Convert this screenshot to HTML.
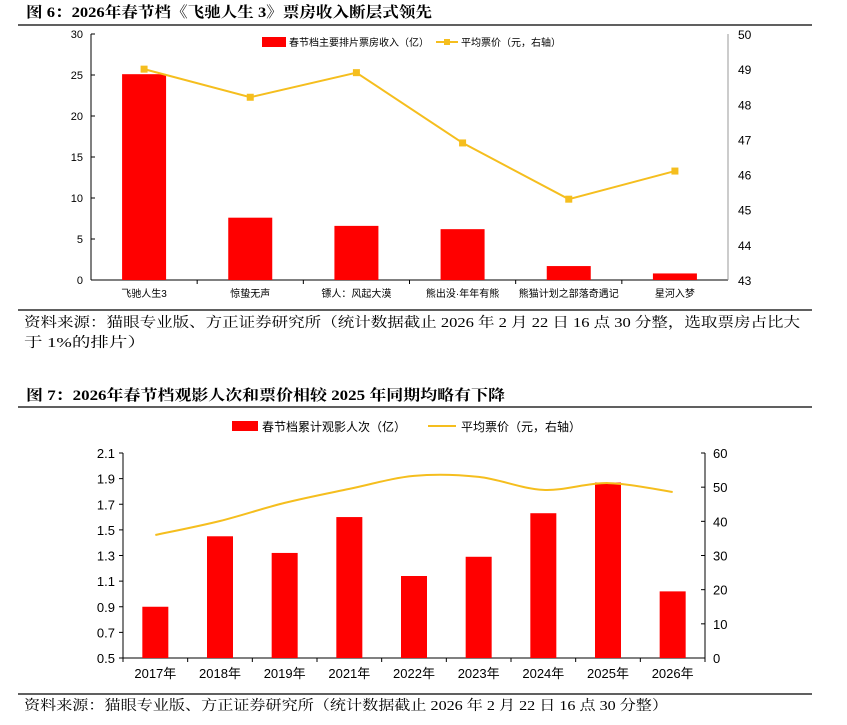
<!DOCTYPE html>
<html><head><meta charset="utf-8">
<style>
body{margin:0;background:#fff;width:847px;height:720px;overflow:hidden;font-family:"Liberation Sans","Noto Serif CJK SC","Noto Sans CJK SC",sans-serif;}
svg text{font-family:"Liberation Sans","Noto Sans CJK SC",sans-serif;}
svg text.t{font-family:"Liberation Serif","Noto Serif CJK SC",serif;font-weight:bold;}
svg text.s{font-family:"Liberation Serif","Noto Serif CJK SC",serif;}
</style></head>
<body>
<svg id="svg" width="847" height="720" xmlns="http://www.w3.org/2000/svg">
<text class="t" x="26" y="17" font-size="15" textLength="406" lengthAdjust="spacingAndGlyphs">图 6：2026年春节档《飞驰人生 3》票房收入断层式领先</text>
<line x1="18" y1="25" x2="812" y2="25" stroke="#000" stroke-width="1.2"/>
<g id="c1"></g>
<line x1="18" y1="310" x2="812" y2="310" stroke="#000" stroke-width="1.2"/>
<text class="s" x="24" y="327" font-size="14" textLength="776" lengthAdjust="spacingAndGlyphs">资料来源：猫眼专业版、方正证券研究所（统计数据截止 2026 年 2 月 22 日 16 点 30 分整，选取票房占比大</text>
<text class="s" x="24" y="347" font-size="14" textLength="122" lengthAdjust="spacingAndGlyphs">于 1%的排片）</text>
<text class="t" x="26" y="400" font-size="15" textLength="479" lengthAdjust="spacingAndGlyphs">图 7：2026年春节档观影人次和票价相较 2025 年同期均略有下降</text>
<line x1="18" y1="407" x2="812" y2="407" stroke="#000" stroke-width="1.2"/>
<g id="c2"></g>
<line x1="18" y1="694" x2="812" y2="694" stroke="#000" stroke-width="1.2"/>
<text class="s" x="24" y="710" font-size="14" textLength="644" lengthAdjust="spacingAndGlyphs">资料来源：猫眼专业版、方正证券研究所（统计数据截止 2026 年 2 月 22 日 16 点 30 分整）</text>
</svg>
<script>
const films=["飞驰人生3","惊蛰无声","镖人：风起大漠","熊出没·年年有熊","熊猫计划之部落奇遇记","星河入梦"];
const boxOffice=[25.1,7.6,6.6,6.2,1.7,0.8];
const filmPrice=[49.0,48.2,48.9,46.9,45.3,46.1];
const leftTicks1=[0,5,10,15,20,25,30];
const rightTicks1=[43,44,45,46,47,48,49,50];

const years=["2017年","2018年","2019年","2021年","2022年","2023年","2024年","2025年","2026年"];
const admissions=[0.90,1.45,1.32,1.60,1.14,1.29,1.63,1.87,1.02];
const yearPrice=[36.0,40.1,45.4,49.5,53.3,53.0,49.2,51.2,48.6];
const leftTicks2=[0.5,0.7,0.9,1.1,1.3,1.5,1.7,1.9,2.1];
const rightTicks2=[0,10,20,30,40,50,60];

const NS="http://www.w3.org/2000/svg";
function mk(p,tag,attrs,txt){const e=document.createElementNS(NS,tag);for(const k in attrs)e.setAttribute(k,attrs[k]);if(txt!==undefined)e.textContent=txt;p.appendChild(e);return e;}

// chart 1
(function(){
const g=document.getElementById('c1');
const X0=91,X1=728,Y0=280,Y1=34;
const yL=v=>Y0-(v-0)/(30-0)*(Y0-Y1);
const yR=v=>Y0-(v-43)/(50-43)*(Y0-Y1);
const bw=(X1-X0)/films.length;
const xc=i=>X0+bw*(i+0.5);
let a=mk(g,'line',{x1:X0,y1:Y1,x2:X0,y2:Y0,stroke:'#000'});
a=mk(g,'line',{x1:X0,y1:Y0,x2:X1,y2:Y0,stroke:'#000'});
a=mk(g,'line',{x1:X1,y1:Y1,x2:X1,y2:Y0,stroke:'#999'});
leftTicks1.forEach(v=>{mk(g,'line',{x1:X0,y1:yL(v),x2:X0+4,y2:yL(v),stroke:'#000'});
 const t=mk(g,'text',{x:X0-8,y:yL(v)+4,'font-size':11,'text-anchor':'end'},v);});
rightTicks1.forEach(v=>{const t=mk(g,'text',{x:X1+10,y:yR(v)+5,'font-size':12},v);});
for(let i=1;i<films.length;i++)mk(g,'line',{x1:X0+bw*i,y1:Y0,x2:X0+bw*i,y2:Y0+4,stroke:'#000'});
films.forEach((f,i)=>{
 const b=mk(g,'rect',{x:xc(i)-22,y:yL(boxOffice[i]),width:44,height:Y0-yL(boxOffice[i]),fill:'#ff0000'});
 
 const t=mk(g,'text',{x:xc(i),y:Y0+17,'font-size':10,'text-anchor':'middle'},f);
 
});
const pl=mk(g,'polyline',{points:filmPrice.map((v,i)=>xc(i)+','+yR(v)).join(' '),fill:'none',stroke:'#f5be1e','stroke-width':2});

filmPrice.forEach((v,i)=>{const m=mk(g,'rect',{x:xc(i)-3.5,y:yR(v)-3.5,width:7,height:7,fill:'#f5be1e'});});
let r=mk(g,'rect',{x:262,y:37,width:24,height:10,fill:'#ff0000'});
let t=mk(g,'text',{x:289,y:46,'font-size':10},'春节档主要排片票房收入（亿）');
r=mk(g,'line',{x1:436,y1:42,x2:458,y2:42,stroke:'#f5be1e','stroke-width':2});
mk(g,'rect',{x:444,y:39,width:6,height:6,fill:'#f5be1e'});
t=mk(g,'text',{x:461,y:46,'font-size':10},'平均票价（元，右轴）');
})();

// chart 2
(function(){
const g=document.getElementById('c2');
const X0=123,X1=705,Y0=658,Y1=453;
const yL=v=>Y0-(v-0.5)/(2.1-0.5)*(Y0-Y1);
const yR=v=>Y0-(v-0)/(60-0)*(Y0-Y1);
const bw=(X1-X0)/years.length;
const xc=i=>X0+bw*(i+0.5);
let a=mk(g,'line',{x1:X0,y1:Y1,x2:X0,y2:Y0,stroke:'#000'});
a=mk(g,'line',{x1:X0,y1:Y0,x2:X1,y2:Y0,stroke:'#000'});
a=mk(g,'line',{x1:X1,y1:Y1,x2:X1,y2:Y0,stroke:'#000'});
leftTicks2.forEach(v=>{mk(g,'line',{x1:X0-4,y1:yL(v),x2:X0,y2:yL(v),stroke:'#000'});
 const t=mk(g,'text',{x:X0-8,y:yL(v)+5,'font-size':13,'text-anchor':'end'},v.toFixed(1));});
rightTicks2.forEach(v=>{mk(g,'line',{x1:X1-4,y1:yR(v),x2:X1,y2:yR(v),stroke:'#000'});
 const t=mk(g,'text',{x:X1+8,y:yR(v)+5,'font-size':13},v);});
for(let i=0;i<=years.length;i++)mk(g,'line',{x1:X0+bw*i,y1:Y0,x2:X0+bw*i,y2:Y0+4,stroke:'#000'});
years.forEach((f,i)=>{
 const b=mk(g,'rect',{x:xc(i)-13,y:yL(admissions[i]),width:26,height:Y0-yL(admissions[i]),fill:'#ff0000'});
 
 const t=mk(g,'text',{x:xc(i),y:Y0+20,'font-size':13,'text-anchor':'middle'},f);
 
});
const P=yearPrice.map((v,i)=>[xc(i),yR(v)]);
let d='M'+P[0][0]+','+P[0][1];
for(let i=0;i<P.length-1;i++){const p0=P[Math.max(0,i-1)],p1=P[i],p2=P[i+1],p3=P[Math.min(P.length-1,i+2)];
 d+=' C'+(p1[0]+(p2[0]-p0[0])/6)+','+(p1[1]+(p2[1]-p0[1])/6)+' '+(p2[0]-(p3[0]-p1[0])/6)+','+(p2[1]-(p3[1]-p1[1])/6)+' '+p2[0]+','+p2[1];}
const pl=mk(g,'path',{d:d,fill:'none',stroke:'#f5be1e','stroke-width':2});

let r=mk(g,'rect',{x:232,y:421,width:26,height:10,fill:'#ff0000'});
let t=mk(g,'text',{x:262,y:431,'font-size':12},'春节档累计观影人次（亿）');
r=mk(g,'line',{x1:428,y1:426,x2:456,y2:426,stroke:'#f5be1e','stroke-width':2});
t=mk(g,'text',{x:461,y:431,'font-size':12},'平均票价（元，右轴）');
})();
</script>
</body></html>
